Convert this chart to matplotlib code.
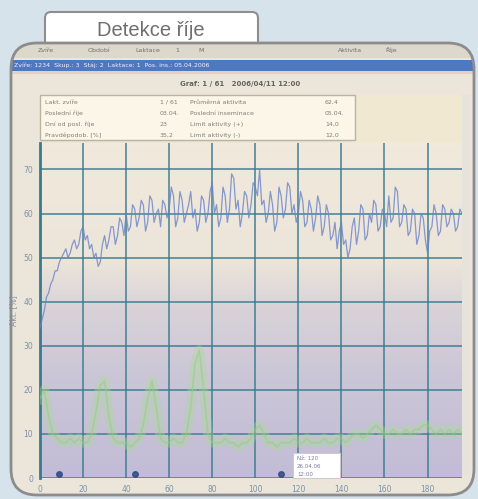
import numpy as np
import matplotlib.pyplot as plt
from matplotlib.patches import FancyBboxPatch, Rectangle
from matplotlib.colors import LinearSegmentedColormap

# data (days, percent)
act_days = list(range(0, 197))
activity = [34, 36, 38, 41, 42, 44, 45, 47, 47, 49, 50, 51, 52, 50, 51, 53, 54, 52, 53, 56,
            57, 54, 55, 52, 53, 50, 51, 48, 49, 53, 55, 52, 54, 57, 57, 53, 55, 59, 58, 55,
            60, 56, 57, 62, 61, 57, 59, 63, 62, 56, 58, 64, 63, 58, 60, 61, 57, 63, 62, 59,
            61, 66, 64, 57, 59, 65, 63, 58, 60, 62, 65, 59, 61, 56, 58, 64, 63, 58, 60, 65,
            67, 60, 62, 57, 59, 66, 64, 58, 61, 69, 68, 61, 63, 57, 60, 65, 64, 59, 62, 67,
            66, 64, 70, 62, 63, 58, 60, 65, 62, 56, 58, 66, 64, 59, 61, 67, 66, 60, 62, 58,
            60, 65, 63, 57, 58, 63, 61, 56, 59, 64, 62, 55, 57, 62, 60, 54, 55, 58, 52, 56,
            58, 53, 54, 50, 52, 57, 59, 53, 56, 62, 61, 54, 55, 60, 58, 63, 62, 56, 57, 61,
            60, 57, 64, 58, 59, 66, 65, 57, 58, 62, 61, 55, 56, 61, 60, 53, 55, 60, 59, 54,
            51, 56, 57, 62, 60, 55, 56, 62, 61, 57, 58, 61, 60, 56, 57, 61, 60]
est_days = list(range(0, 198, 2))
estrus = [18, 20, 14, 10, 9, 8, 8, 9, 8, 9, 8, 8, 10, 15, 21, 22, 14, 9, 8, 8,
          8, 7, 8, 9, 12, 18, 22, 16, 9, 8, 8, 9, 8, 8, 10, 16, 26, 29, 20, 10,
          8, 8, 8, 9, 8, 8, 7, 8, 8, 9, 11, 12, 10, 8, 8, 7, 8, 8, 8, 9,
          8, 8, 9, 8, 8, 8, 9, 8, 8, 9, 9, 8, 9, 10, 10, 9, 10, 11, 12, 11,
          10, 10, 11, 10, 10, 11, 10, 11, 11, 12, 12, 11, 10, 11, 10, 11, 10, 11, 10]
event_days = [9, 44, 112]
x_ticks = [0, 20, 40, 60, 80, 100, 120, 140, 160, 180]
y_ticks = [0, 10, 20, 30, 40, 50, 60, 70]

info_rows = [("Lakt. zvíře", "1 / 61", "Průměrná aktivita", "62,4"),
             ("Poslední říje", "03.04.", "Poslední inseminace", "05.04."),
             ("Dní od posl. říje", "23", "Limit aktivity (+)", "14,0"),
             ("Pravděpodob. [%]", "35,2", "Limit aktivity (-)", "12,0")]

W, H = 478, 499
fig = plt.figure(figsize=(W / 100, H / 100), dpi=100)
fig.patch.set_facecolor('#d6e3eb')

bg = fig.add_axes([0, 0, 1, 1])
bg.set_xlim(0, W)
bg.set_ylim(H, 0)
bg.axis('off')

# tab
tab = FancyBboxPatch((45, 12), 213, 45, boxstyle='round,pad=0,rounding_size=6',
                     fc='white', ec='#8e8e8e', lw=1.5)
bg.add_patch(tab)
bg.text(151, 30, 'Detekce říje', ha='center', va='center', fontsize=14.5,
        color='#6f6f6f', family='Liberation Sans')

# panel with the screenshot
panel = FancyBboxPatch((11, 43), 463, 452, boxstyle='round,pad=0,rounding_size=26',
                       fc='#ece6da', ec='none')
bg.add_patch(panel)

r = Rectangle((11, 43), 463, 15, fc='#dcd8cc', ec='none')
bg.add_patch(r)
r.set_clip_path(panel)
for tx, t in [(38, 'Zvíře'), (88, 'Období'), (135, 'Laktace'), (175, '1'), (198, 'M'),
              (338, 'Aktivita'), (385, 'Říje')]:
    bg.text(tx, 50, t, fontsize=4.5, color='#555555', va='center', alpha=0.8)
r = Rectangle((11, 60), 463, 11, fc='#4d78c2', ec='none')
bg.add_patch(r)
r.set_clip_path(panel)
bg.text(14, 65.5, 'Zvíře: 1234  Skup.: 3  Stáj: 2  Laktace: 1  Pos. ins.: 05.04.2006',
        fontsize=4.5, color='#f4f0ff', va='center')
bg.add_patch(Rectangle((11, 71), 463, 3, fc='#e7cfc4', ec='none'))
bg.text(240, 84, 'Graf: 1 / 61   2006/04/11 12:00', ha='center', va='center',
        fontsize=5, color='#444444', weight='bold', alpha=0.8)

# plot
ax = fig.add_axes([40 / W, 1 - 478 / H, 422 / W, (478 - 143) / H])
ax.set_xlim(0, 196)
ax.set_ylim(0, 76)
cmap = LinearSegmentedColormap.from_list('bgr', [(0, '#c2bcd6'), (0.3, '#cbc6d6'),
                                                  (0.5, '#d8d2d8'), (0.65, '#ece5da'),
                                                  (1, '#f1e9da')])
ax.imshow(np.linspace(0, 1, 100).reshape(-1, 1), cmap=cmap, origin='lower',
          extent=[0, 196, 0, 76], aspect='auto', zorder=0)
ax.set_xticks(x_ticks)
ax.set_yticks(y_ticks)
ax.grid(True, color='#3a7a8e', lw=1.3, alpha=0.8)
ax.set_axisbelow(True)
ax.plot(est_days, estrus, color='#a8dc92', lw=7, alpha=0.35, zorder=3)
ax.plot(est_days, estrus, color='#8fd07a', lw=1.2, alpha=0.5, zorder=3)
ax.plot(act_days, activity, color='#6a82c8', lw=0.9, alpha=0.8, zorder=4)
ax.plot(event_days, [0.9] * len(event_days), 'o', color='#2a4a80', ms=4, alpha=0.85, zorder=5)
for s in ['top', 'right', 'bottom']:
    ax.spines[s].set_visible(False)
ax.spines['left'].set_color('#3a7a8e')
ax.spines['left'].set_linewidth(2)
ax.tick_params(length=0, labelsize=5.5, labelcolor='#7a92aa', pad=5)
ax.set_ylabel('Akt. [%]', fontsize=5.5, color='#7a92aa', labelpad=4)

bg.set_zorder(0)
ax.set_zorder(1)
ax.patch.set_visible(False)
for ch in ax.get_children():
    ch.set_clip_path(panel)

# overlay: info box, small legend box, frame
top = fig.add_axes([0, 0, 1, 1])
top.set_xlim(0, W)
top.set_ylim(H, 0)
top.axis('off')
top.set_zorder(2)
top.add_patch(Rectangle((355, 95), 107, 48, fc='#f0e8d0', ec='none'))
top.add_patch(Rectangle((40, 95), 315, 45, fc='#fbf6e8', ec='#b8b4a0', lw=1))
for i, (a, b, c, d) in enumerate(info_rows):
    y = 102 + i * 11
    for tx, t in [(45, a), (160, b), (190, c), (325, d)]:
        top.text(tx, y, t, fontsize=4.5, color='#6a6a60', va='center', alpha=0.85)
top.add_patch(Rectangle((293, 453), 47, 25, fc='white', ec='#cccccc', lw=0.8))
for i, t in enumerate(['Nž: 120', '26.04.06', '12:00']):
    top.text(297, 458 + i * 8, t, fontsize=4, color='#7a7a9a', va='center')
top.add_patch(Rectangle((462, 95), 8, 380, fc='#e6e2dc', ec='none'))
top.add_patch(FancyBboxPatch((11, 43), 463, 452, boxstyle='round,pad=0,rounding_size=26',
                             fc='none', ec='#8c8c8c', lw=2))

fig.savefig('out.png', dpi=100, facecolor=fig.get_facecolor())
